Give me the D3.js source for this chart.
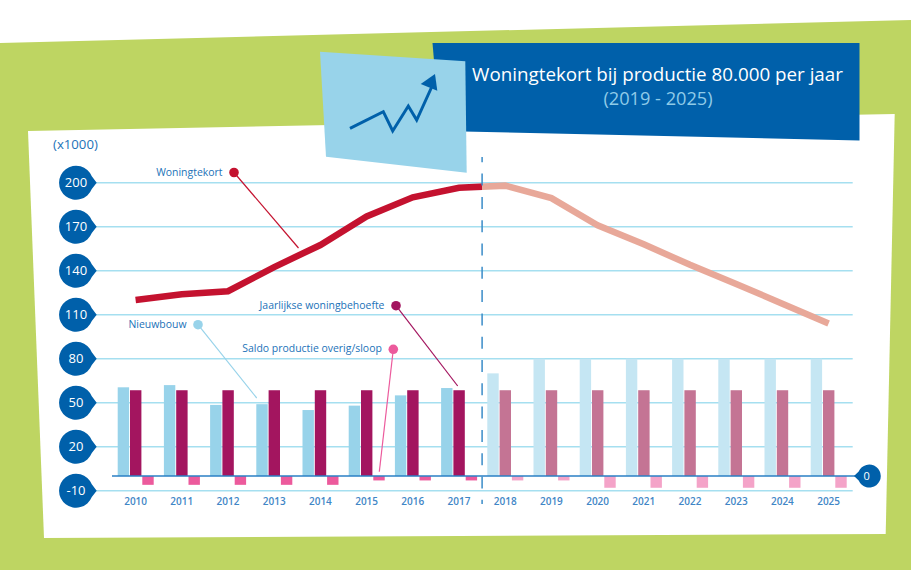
<!DOCTYPE html>
<html>
<head>
  <meta charset="utf-8">
  <title>Woningtekort bij productie 80.000 per jaar</title>
  <script type="text/javascript" src="https://cdn.jsdelivr.net/npm/d3@7"></script>
  <style>
    body { margin: 0; background: #fff; }
    svg { display: block; }
    text { font-family: "Open Sans", sans-serif; fill: #2272b8; }
  </style>
</head>
<body>
  <svg id="chart" width="911" height="570"></svg>
  <script type="text/javascript">

  var years = ['2010', '2011', '2012', '2013', '2014', '2015', '2016', '2017',
    '2018', '2019', '2020', '2021', '2022', '2023', '2024', '2025'];
  var firstProjectedYear = '2018';
  var yTicks = [-10, 20, 50, 80, 110, 140, 170, 200];

  var woningtekort = [120, 124, 126, 142.5, 157.5, 177, 190, 196.5,
    198, 189.5, 171, 158, 144, 131, 117.5, 104];
  var nieuwbouw = [60.5, 62, 48.5, 49, 45, 48, 55, 60,
    70, 80, 80, 80, 80, 80, 80, 80];
  var woningbehoefte = [58.5, 58.5, 58.5, 58.5, 58.5, 58.5, 58.5, 58.5,
    58.5, 58.5, 58.5, 58.5, 58.5, 58.5, 58.5, 58.5];
  var saldo = [-6, -6, -6, -6, -6, -3, -3, -3,
    -3, -3, -8, -8, -8, -8, -8, -8];

  var blue = '#0060aa', lightBlue = '#98d3ea', gridBlue = '#a5dff0';

  var svg = d3.select('#chart');
  var polygon = function(points, fill) {
    svg.append('polygon')
      .attr('points', points.map(function(p) { return p.join(','); }).join(' '))
      .attr('fill', fill);
  };

  // Background sheets
  polygon([[0, 43], [911, 20], [911, 570], [0, 570]], '#bed562');
  polygon([[28, 131], [894.7, 114], [885.7, 534], [44, 538]], '#fff');
  polygon([[432.5, 43], [859.5, 43], [859.5, 140.5], [440, 131]], blue);
  polygon([[320, 51.7], [465.3, 61.3], [466.7, 172.7], [326, 156.7]], lightBlue);

  // Icon
  svg.append('polyline')
    .attr('points', '350,128.3 383.3,111.7 392.7,131 408.3,106 416.7,120 431.7,87')
    .attr('fill', 'none')
    .attr('stroke', blue)
    .attr('stroke-width', 3);
  polygon([[435, 74], [420.7, 84], [437.3, 90.7]], blue);

  // Title
  svg.append('text')
    .attr('x', 657.5).attr('y', 81)
    .attr('text-anchor', 'middle')
    .style('font-size', '18.8px')
    .style('fill', '#fff')
    .text('Woningtekort bij productie 80.000 per jaar');
  svg.append('text')
    .attr('x', 658).attr('y', 105)
    .attr('text-anchor', 'middle')
    .style('font-size', '18.2px')
    .style('fill', '#8fcbe8')
    .text('(2019 - 2025)');

  svg.append('text')
    .attr('x', 53).attr('y', 149)
    .style('font-size', '13.2px')
    .text('(x1000)');

  // Scales
  var x = d3.scaleBand().domain(years).range([112.5, 851.7]);
  var y = d3.scaleLinear().domain([-10, 200]).range([490.7, 182.7]);
  var barWidth = 11.4;
  var isProjected = function(year) { return year >= firstProjectedYear; };
  var divideX = x(firstProjectedYear);

  // Y axis: gridlines with round badges
  var yAxis = svg.append('g')
    .attr('transform', 'translate(96,0)')
    .call(d3.axisRight(y).tickValues(yTicks).tickSize(756.7).offset(0).tickFormat(String));
  yAxis.select('.domain').remove();
  yAxis.selectAll('.tick line')
    .attr('stroke', gridBlue)
    .attr('stroke-width', 1.4);
  yAxis.selectAll('.tick').append('path')
    .attr('d', 'M-4.2,-6.4A17,17 0 1 0 -4.2,6.4L0.7,0Z')
    .attr('fill', blue);
  yAxis.selectAll('.tick text').each(function() { this.parentNode.appendChild(this); })
    .attr('x', -20)
    .attr('dy', '0.34em')
    .attr('text-anchor', 'middle')
    .style('font-size', '13px')
    .style('fill', '#fff');

  // Bars
  var series = [
    { values: nieuwbouw, offset: 5.2, color: lightBlue, faded: '#c5e6f3' },
    { values: woningbehoefte, offset: 17.5, color: '#a3155f', faded: '#c47494' },
    { values: saldo, offset: 29.8, color: '#ec5a9c', faded: '#f4a3c8' }
  ];
  series.forEach(function(s) {
    svg.append('g').selectAll('rect')
      .data(years)
      .join('rect')
      .attr('x', function(d) { return x(d) + s.offset; })
      .attr('width', barWidth)
      .attr('y', function(d, i) { return y(Math.max(0, s.values[i])); })
      .attr('height', function(d, i) { return Math.abs(y(s.values[i]) - y(0)); })
      .attr('fill', function(d) { return isProjected(d) ? s.faded : s.color; });
  });

  // Zero line with its badge
  svg.append('line')
    .attr('x1', 112).attr('x2', 856)
    .attr('y1', y(0)).attr('y2', y(0))
    .attr('stroke', '#2a7fc4')
    .attr('stroke-width', 1.6);
  var zero = svg.append('g').attr('transform', 'translate(866.7,' + y(0) + ')');
  zero.append('path')
    .attr('d', 'M-12.7,0L-8,-4.5A11.5,11.5 0 1 1 -8,4.5Z')
    .attr('fill', blue);
  zero.append('text')
    .attr('dy', '0.36em')
    .attr('text-anchor', 'middle')
    .style('font-size', '11px')
    .style('fill', '#fff')
    .text('0');

  // Year labels
  var xAxis = svg.append('g')
    .attr('transform', 'translate(0,495)')
    .call(d3.axisBottom(x).tickSize(0));
  xAxis.select('.domain').remove();
  xAxis.selectAll('text')
    .style('font-size', '10px')
    .style('font-weight', 600)
    .style('fill', '#3f86c6');

  // Woningtekort line, hard colour change at the start of the projection
  var gradient = svg.append('defs').append('linearGradient')
    .attr('id', 'tekort')
    .attr('gradientUnits', 'userSpaceOnUse')
    .attr('x1', 0).attr('x2', 911).attr('y1', 0).attr('y2', 0);
  [['#c4122f', 0], ['#c4122f', divideX / 911], ['#e8a899', divideX / 911], ['#e8a899', 1]]
    .forEach(function(s) {
      gradient.append('stop').attr('offset', s[1]).attr('stop-color', s[0]);
    });
  svg.append('path')
    .attr('d', d3.line()
      .x(function(d, i) { return x(years[i]) + x.bandwidth() / 2; })
      .y(function(d) { return y(d); })(woningtekort))
    .attr('fill', 'none')
    .attr('stroke', 'url(#tekort)')
    .attr('stroke-width', 6.5);

  // Divider between history and projection
  svg.append('line')
    .attr('x1', divideX).attr('x2', divideX)
    .attr('y1', 157).attr('y2', 504)
    .attr('stroke', '#3a8cc8')
    .attr('stroke-width', 1.5)
    .attr('stroke-dasharray', '12 11.3')
    .attr('stroke-dashoffset', 6.7);

  // Callouts
  var callouts = [
    { label: 'Woningtekort', color: '#c4122f', dot: [234, 172.5], end: [298.5, 248] },
    { label: 'Jaarlijkse woningbehoefte', color: '#a3155f', dot: [396, 305.7], end: [457.7, 386] },
    { label: 'Nieuwbouw', color: lightBlue, dot: [198, 324.7], end: [256.7, 398] },
    { label: 'Saldo productie overig/sloop', color: '#ec5a9c', dot: [393.3, 349.3], end: [379.3, 471.7] }
  ];
  callouts.forEach(function(c) {
    svg.append('line')
      .attr('x1', c.dot[0]).attr('y1', c.dot[1])
      .attr('x2', c.end[0]).attr('y2', c.end[1])
      .attr('stroke', c.color)
      .attr('stroke-width', 1.2);
    svg.append('circle')
      .attr('cx', c.dot[0]).attr('cy', c.dot[1])
      .attr('r', 4.8)
      .attr('fill', c.color);
    svg.append('text')
      .attr('x', c.dot[0] - 11.5).attr('y', c.dot[1] + 3)
      .attr('text-anchor', 'end')
      .style('font-size', '10.45px')
      .text(c.label);
  });

  </script>
</body>
</html>
